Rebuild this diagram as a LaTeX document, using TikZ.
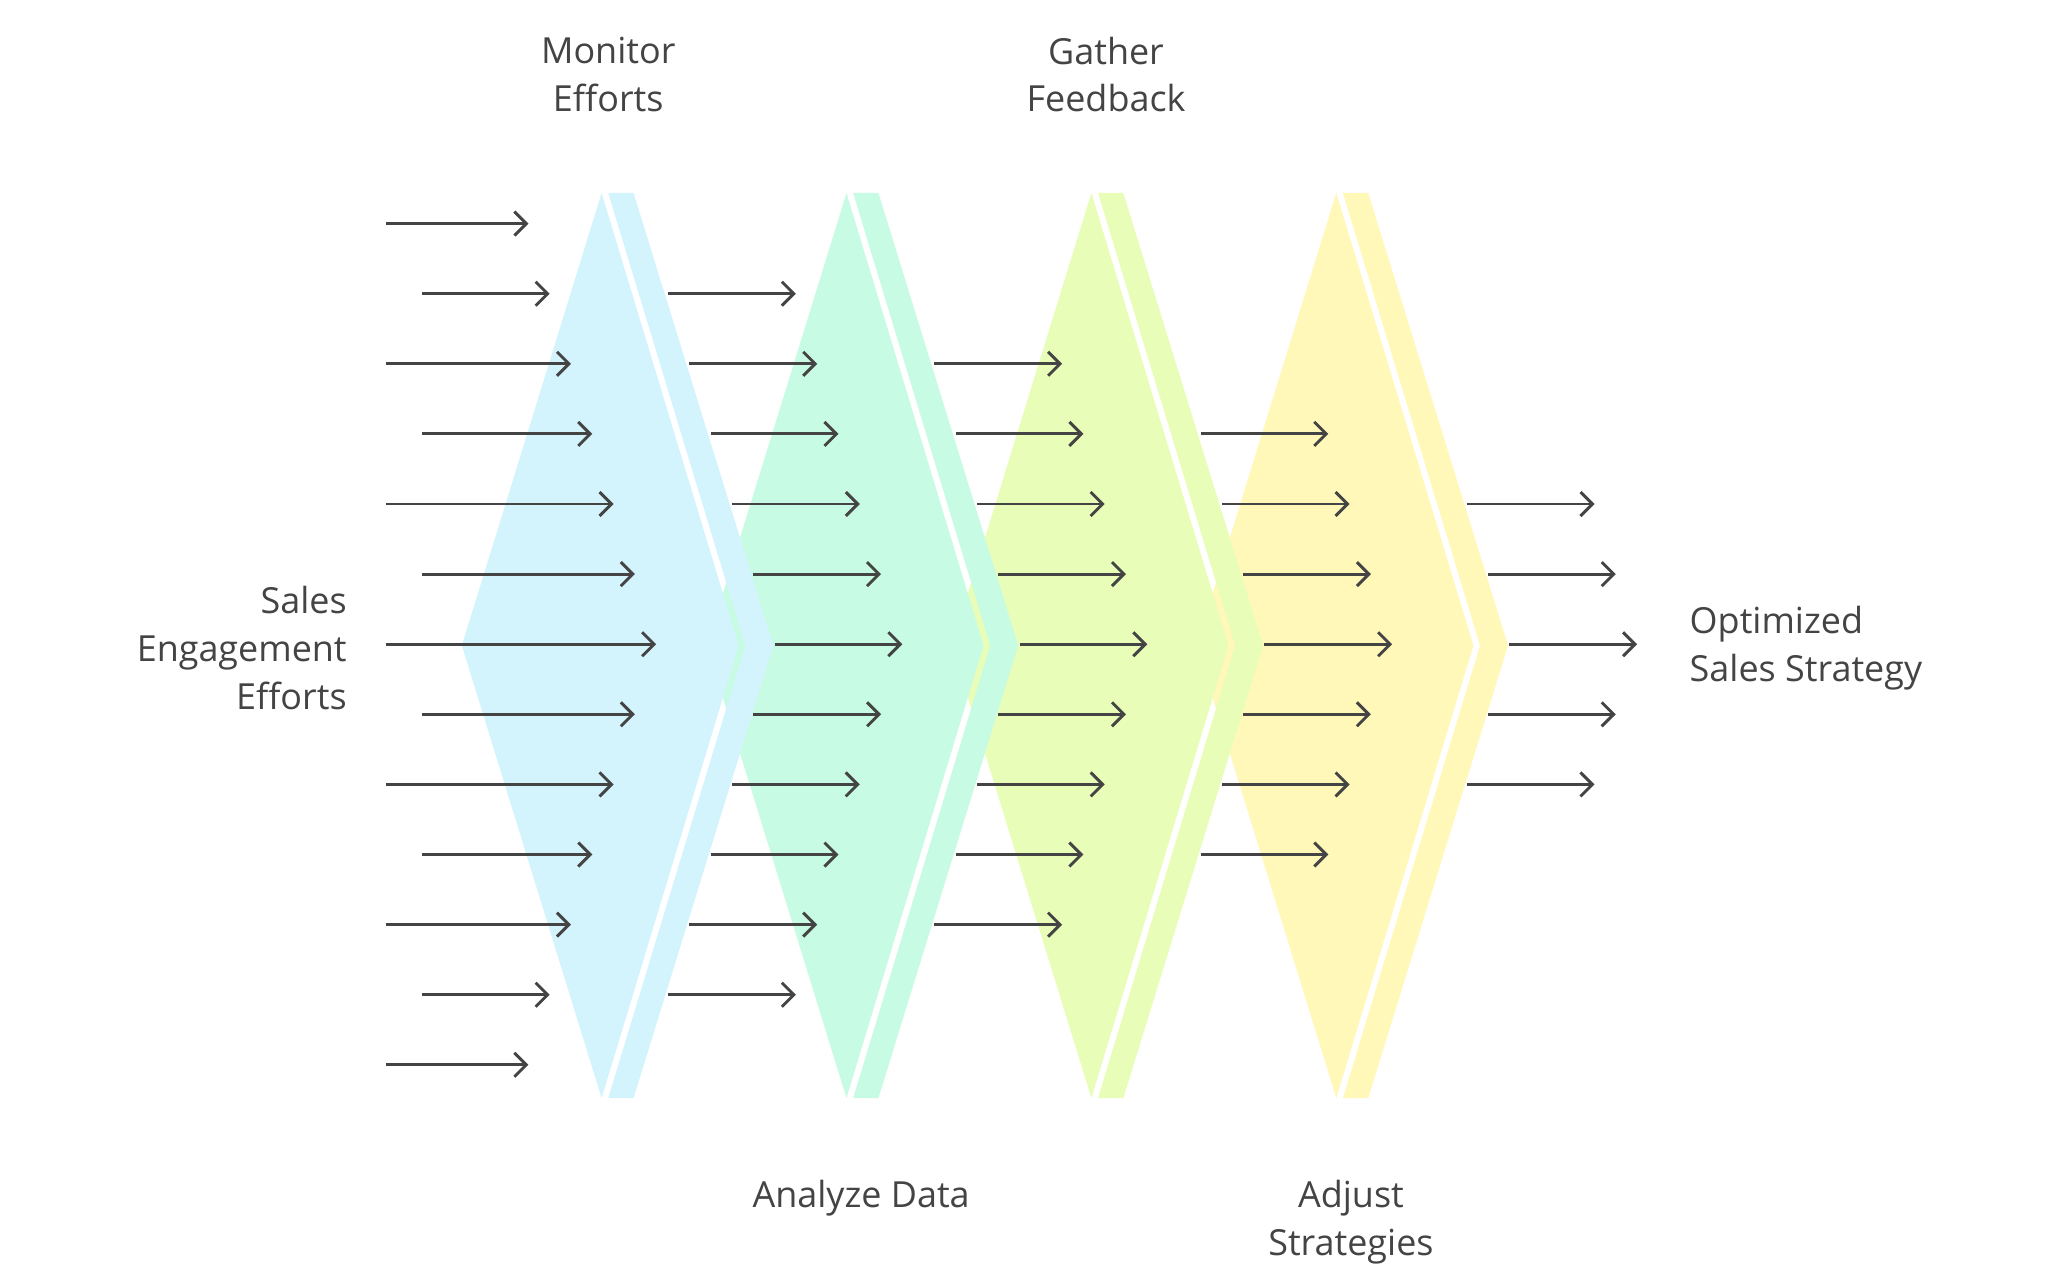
\documentclass[tikz,border=0pt]{standalone}
\usepackage{fontspec}
\setmainfont{Open Sans}
\usetikzlibrary{arrows.meta}
\definecolor{ink}{HTML}{444444}
\definecolor{cA}{HTML}{D3F3FD}
\definecolor{cB}{HTML}{C8FBE3}
\definecolor{cC}{HTML}{E8FEB8}
\definecolor{cD}{HTML}{FFF8B8}
\begin{document}
\begin{tikzpicture}[x=1pt,y=-1pt,
  arr/.style={draw=ink,line width=2.2pt,-{Straight Barb[length=9pt,width=18pt,line width=2.2pt]}},
  lbl/.style={text=ink,font=\fontsize{27}{36}\selectfont,align=center}]
\useasboundingbox[fill=white] (0,0) rectangle (1550,958);
\foreach \i/\c in {3/cD,2/cC,1/cB,0/cA}{
  \begin{scope}[xshift=\i*184]
  \fill[\c] (347,485) -- (452,145) -- (555,485) -- (452,825) -- cycle;
  \fill[\c] (457,145) -- (476,145) -- (581,485) -- (476,825) -- (457,825) -- (560,485) -- cycle;
  \end{scope}}
% set 0
\foreach \r in {0,...,12}{
  \pgfmathsetmacro\yy{168+52.67*\r}
  \pgfmathsetmacro\d{6-abs(\r-6)}
  \pgfmathsetmacro\xs{mod(\r,2)==0 ? 290 : 317}
  \pgfmathsetmacro\xe{397+16*\d}
  \coordinate (s) at (\xs,\yy); \coordinate (e) at (\xe,\yy);
  \draw[arr] (s) -- (e);}
\foreach \k in {1,...,4}{
  \pgfmathtruncatemacro\ra{\k}
  \pgfmathtruncatemacro\rb{12-\k}
  \foreach \r in {\ra,...,\rb}{
    \pgfmathsetmacro\yy{168+52.67*\r}
    \pgfmathsetmacro\d{6-abs(\r-6)-\k}
    \pgfmathsetmacro\xs{502+200*(\k-1)+16*\d}
    \coordinate (s) at (\xs,\yy); \coordinate (e) at (\xs+96,\yy);
    \draw[arr] (s) -- (e);}}
\node[lbl] (m) at (457,56) {Monitor\\Efforts};
\node[lbl] (g) at (831,56) {Gather\\Feedback};
\node[lbl] (a) at (647,900) {Analyze Data};
\node[lbl] (j) at (1015,918) {Adjust\\Strategies};
\node[lbl,align=right,anchor=east] (s0) at (264,487) {Sales\\Engagement\\Efforts};
\node[lbl,align=left,anchor=west] (o) at (1266,487) {Optimized\\Sales Strategy};
\end{tikzpicture}
\end{document}
